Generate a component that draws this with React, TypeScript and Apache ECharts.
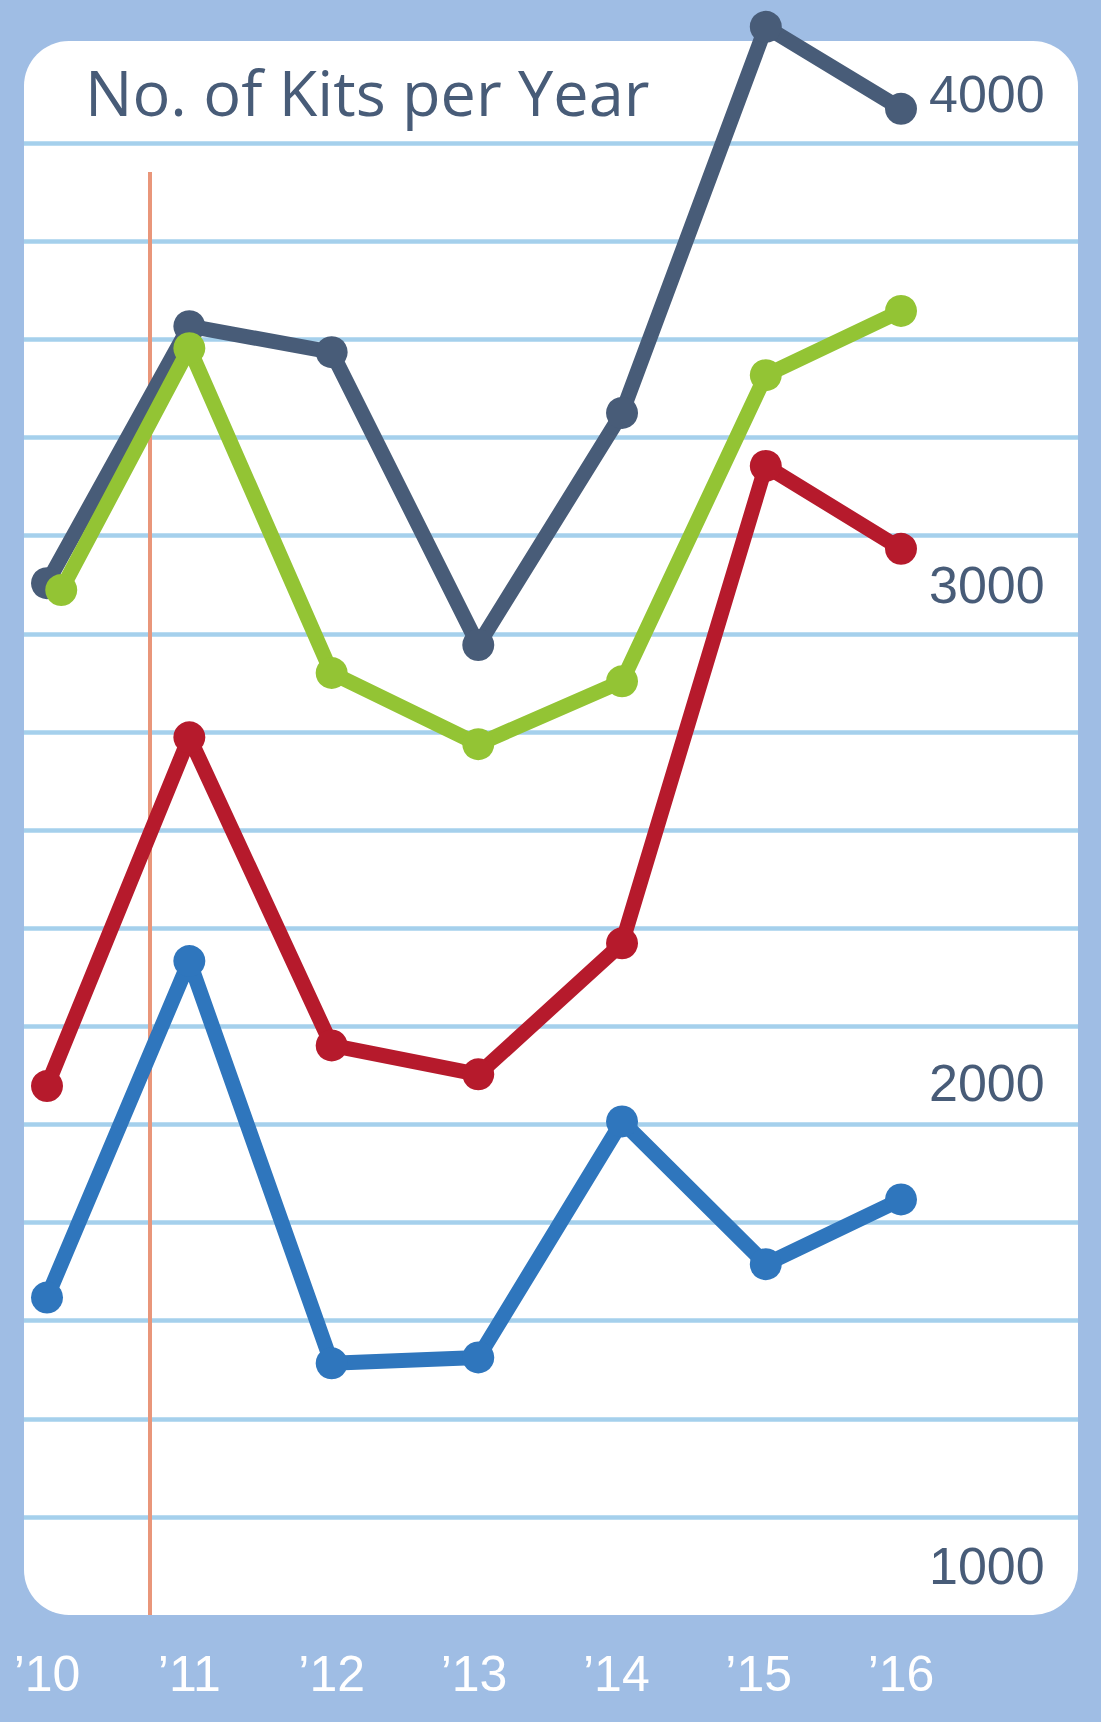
import React, { useEffect, useRef } from "react";
import * as echarts from "echarts";

const years = [2010, 2011, 2012, 2013, 2014, 2015, 2016];
// x positions of the points (in years)
const pointYears = [2010, 2011, 2012, 2013.03, 2014.04, 2015.05, 2016];
const greenYears = [2010.1, 2011, 2012, 2013.03, 2014.04, 2015.05, 2016];
const slateValues = [3003, 3527, 3474, 2877, 3350, 4137, 3970];
const greenValues = [2989, 3482, 2820, 2675, 2803, 3427, 3558];
const redValues = [1978, 2689, 2061, 2002, 2269, 3242, 3073];
const blueValues = [1547, 2233, 1413, 1425, 1906, 1615, 1747];
const yTickLabels = [1000, 2000, 3000, 4000];
const titleText = "No. of Kits per Year";

const SLATE = "#485c78";
const GREEN = "#93c434";
const RED = "#b61a2c";
const BLUE = "#2f76bd";

function pairs(xs: number[], ys: number[]) {
  return xs.map((x, i) => [x, ys[i]]);
}

export default function App() {
  const ref = useRef<HTMLDivElement>(null);
  useEffect(() => {
    document.body.style.margin = "0";
    if (!ref.current) return;
    const chart = echarts.init(ref.current, undefined, { renderer: "svg" });
    const lineSeries = (name: string, xs: number[], ys: number[], color: string) => ({
      name,
      type: "line",
      xAxisIndex: 0,
      yAxisIndex: 0,
      data: pairs(xs, ys),
      clip: false,
      symbol: "circle",
      symbolSize: 32,
      lineStyle: { color, width: 15 },
      itemStyle: { color },
      z: 5,
    });
    chart.setOption({
      animation: false,
      backgroundColor: "#9fbde4",
      graphic: [
        {
          type: "rect",
          z: -10,
          shape: { x: 24, y: 41, width: 1054, height: 1574, r: 45 },
          style: { fill: "#ffffff" },
        },
        {
          type: "line",
          z: 1,
          shape: { x1: 150, y1: 172, x2: 150, y2: 1615 },
          style: { stroke: "#e9967a", lineWidth: 4 },
        },
        {
          type: "text",
          z: 3,
          x: 85,
          y: 91,
          style: {
            text: titleText,
            fill: SLATE,
            font: "63px 'Open Sans'",
            textAlign: "left",
            textVerticalAlign: "middle",
          },
        },
      ],
      grid: [
        { left: 47, right: 200, top: 45, bottom: 107 },
        { left: 24, right: 23, top: 45, bottom: 107 },
      ],
      xAxis: [
        {
          type: "value",
          gridIndex: 0,
          min: 2010,
          max: 2016,
          interval: 1,
          axisLine: { show: false },
          axisTick: { show: false },
          splitLine: { show: false },
          axisLabel: {
            formatter: (v: number) => (years.includes(v) ? "\u2019" + String(v).slice(2) : ""),
            color: "#ffffff",
            fontSize: 50,
            fontFamily: "Liberation Sans",
            margin: 59,
            verticalAlign: "middle",
          },
        },
        { type: "value", gridIndex: 1, min: 0, max: 1, show: false },
      ],
      yAxis: [
        {
          type: "value",
          gridIndex: 0,
          min: 900,
          max: 4100,
          axisLine: { show: false },
          axisTick: { show: false },
          splitLine: { show: false },
          axisLabel: { show: false },
        },
        {
          type: "value",
          gridIndex: 0,
          position: "right",
          min: 900,
          max: 4100,
          interval: 100,
          axisLine: { show: false },
          axisTick: { show: false },
          splitLine: { show: false },
          axisLabel: {
            margin: 28,
            align: "left",
            verticalAlign: "middle",
            formatter: (v: number) => {
              if (!yTickLabels.includes(v)) return "";
              return v === 2000 ? "{d|" + v + "}" : "{n|" + v + "}";
            },
            rich: {
              n: { color: SLATE, fontSize: 52, fontFamily: "Liberation Sans" },
              d: { color: SLATE, fontSize: 52, fontFamily: "Liberation Sans", padding: [16, 0, 0, 0] },
            },
          },
        },
        {
          type: "value",
          gridIndex: 1,
          min: 900,
          max: 4100,
          interval: 200,
          axisLine: { show: false },
          axisTick: { show: false },
          axisLabel: { show: false },
          splitLine: {
            show: true,
            showMinLine: false,
            showMaxLine: false,
            lineStyle: { color: "#a5d0ec", width: 4.5 },
          },
        },
      ],
      series: [
        lineSeries("slate", pointYears, slateValues, SLATE),
        lineSeries("red", pointYears, redValues, RED),
        lineSeries("blue", pointYears, blueValues, BLUE),
        lineSeries("green", greenYears, greenValues, GREEN),
      ],
    });
    return () => chart.dispose();
  }, []);
  return <div ref={ref} style={{ width: 1101, height: 1722 }} />;
}
